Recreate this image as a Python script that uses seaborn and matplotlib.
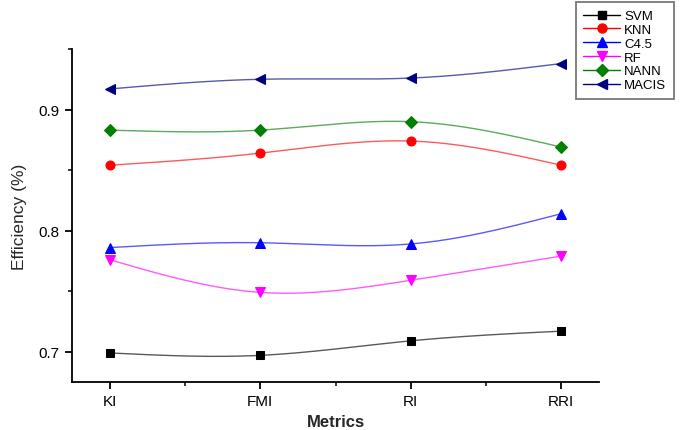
import numpy as np
import pandas as pd
import matplotlib
matplotlib.use("Agg")
import matplotlib.pyplot as plt
from matplotlib.lines import Line2D
import seaborn as sns

metrics = ["KI", "FMI", "RI", "RRI"]
svm = [0.699, 0.697, 0.709, 0.717]
knn = [0.854, 0.864, 0.874, 0.854]
c45 = [0.786, 0.790, 0.789, 0.814]
rf = [0.776, 0.749, 0.759, 0.779]
nann = [0.883, 0.883, 0.890, 0.869]
macis = [0.917, 0.925, 0.926, 0.938]

series_names = ["SVM", "KNN", "C4.5", "RF", "NANN", "MACIS"]
series_vals = [svm, knn, c45, rf, nann, macis]
colors = ["#000000", "#ff0000", "#0000ff", "#ff00ff", "#008000", "#000080"]
markers = ["s", "o", "^", "v", "D", "<"]
msizes = [6, 6.5, 7, 7, 6, 7]

sns.set_style("ticks")
plt.rcParams["font.family"] = ["Liberation Sans", "DejaVu Sans"]

fig = plt.figure(figsize=(6.85, 4.31), dpi=100)
ax = fig.add_axes([72 / 685, 1 - 383 / 431, (599 - 72) / 685, (383 - 50) / 431])


def natural_spline(x, y, n=200):
    x = np.asarray(x, float)
    y = np.asarray(y, float)
    k = len(x)
    h = np.diff(x)
    A = np.zeros((k, k))
    b = np.zeros(k)
    A[0, 0] = 1
    A[-1, -1] = 1
    for i in range(1, k - 1):
        A[i, i - 1] = h[i - 1]
        A[i, i] = 2 * (h[i - 1] + h[i])
        A[i, i + 1] = h[i]
        b[i] = 3 * ((y[i + 1] - y[i]) / h[i] - (y[i] - y[i - 1]) / h[i - 1])
    c = np.linalg.solve(A, b)
    xs = np.linspace(x[0], x[-1], n)
    ys = np.empty_like(xs)
    for j, xv in enumerate(xs):
        i = min(np.searchsorted(x, xv, side="right") - 1, k - 2)
        dx = xv - x[i]
        bi = (y[i + 1] - y[i]) / h[i] - h[i] * (2 * c[i] + c[i + 1]) / 3
        di = (c[i + 1] - c[i]) / (3 * h[i])
        ys[j] = y[i] + bi * dx + c[i] * dx ** 2 + di * dx ** 3
    return xs, ys


xpos = np.arange(len(metrics))
handles = []
for name, vals, col, mk, ms in zip(series_names, series_vals, colors, markers, msizes):
    xs, ys = natural_spline(xpos, vals)
    ax.plot(xs, ys, color=col, lw=1.0, alpha=0.65, zorder=2)
    df = pd.DataFrame({"x": xpos, "y": vals})
    sns.lineplot(data=df, x="x", y="y", ax=ax, color=col, marker=mk,
                 markersize=ms, markeredgecolor=col, linestyle="none", zorder=3)
    handles.append(Line2D([], [], color=col, lw=1.0, alpha=1, marker=mk, markersize=ms,
                          markeredgecolor=col, label=name))

ax.set_xlim(-0.25, 3.25)
ax.set_ylim(0.675, 0.95)
ax.set_xticks(xpos)
ax.set_xticklabels(metrics)
ax.set_xticks([0.5, 1.5, 2.5], minor=True)
ax.set_yticks([0.7, 0.8, 0.9])
ax.set_yticklabels(["0.7", "0.8", "0.9"])
ax.set_yticks([0.75, 0.85, 0.95], minor=True)

for s in ["top", "right"]:
    ax.spines[s].set_visible(False)
for s in ["left", "bottom"]:
    ax.spines[s].set_linewidth(1.3)
    ax.spines[s].set_color("black")

ax.tick_params(axis="both", which="major", direction="out", length=5, width=1.3,
               labelsize=11, colors="black", pad=4)
ax.tick_params(axis="both", which="minor", direction="out", length=3, width=1.3)

ax.set_xlabel("Metrics", fontsize=12, fontweight="bold", labelpad=4)
ax.set_ylabel("Efficiency (%)", fontsize=12.5, labelpad=8)

leg = fig.legend(handles=handles, loc="upper left",
                 bbox_to_anchor=(575.5 / 685, 1 - 3 / 431),
                 bbox_transform=fig.transFigure, borderaxespad=0,
                 fontsize=9.5, frameon=True, fancybox=False,
                 handlelength=2.8, handletextpad=0.3, labelspacing=0.12,
                 borderpad=0.6)
leg.get_frame().set_edgecolor("#555555")
leg.get_frame().set_linewidth(1.3)
for t in leg.get_texts():
    t.set_color("black")

fig.savefig("out.png", dpi=100)
